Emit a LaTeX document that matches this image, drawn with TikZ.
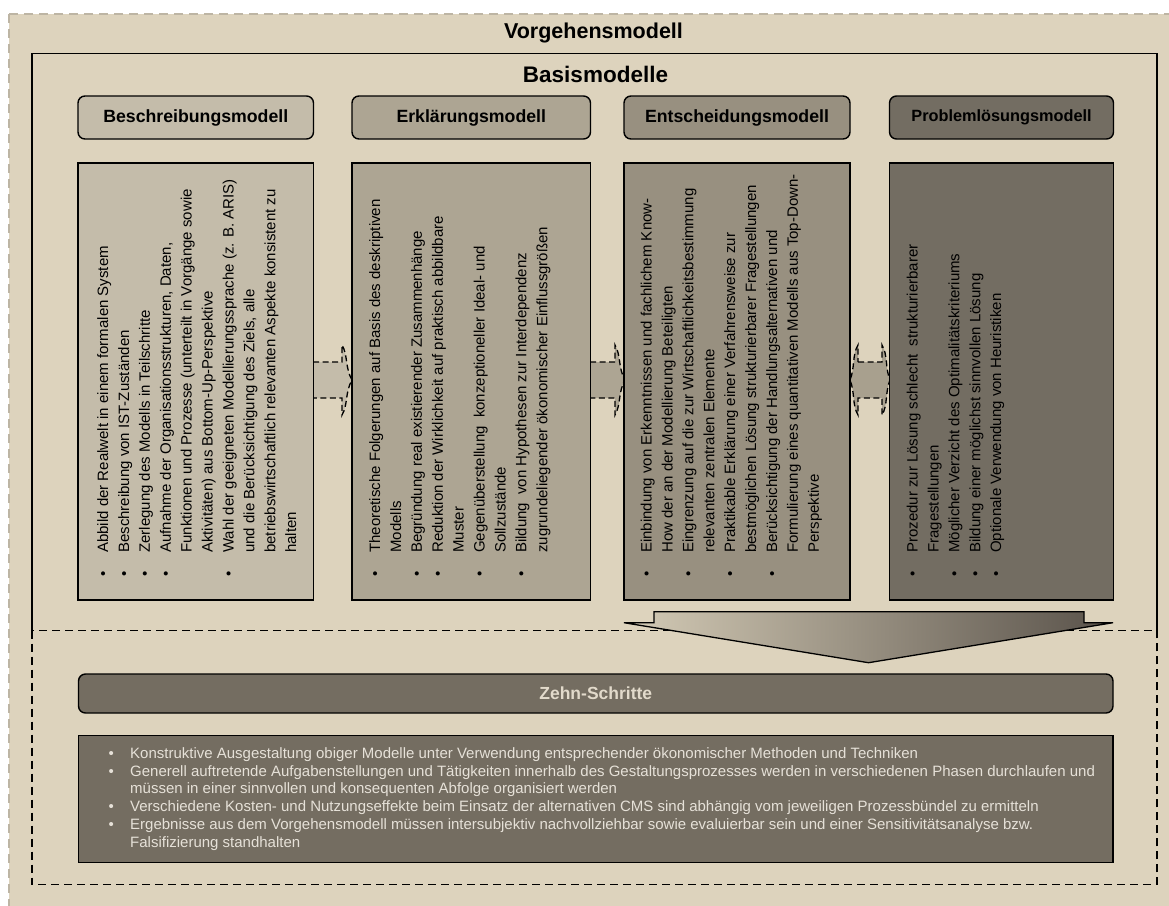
\documentclass[tikz,border=0pt]{standalone}
\usepackage{fontspec}
\setmainfont{Liberation Sans}
\definecolor{bgbeige}{HTML}{DDD3BD}
\definecolor{cBes}{HTML}{C4BCAA}
\definecolor{cErk}{HTML}{ADA593}
\definecolor{cEnt}{HTML}{989080}
\definecolor{cArr}{HTML}{A8A08E}
\definecolor{cPro}{HTML}{736D62}
\definecolor{cZehn}{HTML}{746D61}
\definecolor{outerdash}{HTML}{BDB5A4}
\definecolor{lighttext}{HTML}{E6E1D8}
\definecolor{zehntext}{HTML}{E2DACB}
\definecolor{arrL}{HTML}{D4CBB6}
\definecolor{arrR}{HTML}{59524A}
\newcommand{\bi}[1]{\makebox[24pt][l]{\textbullet}#1}
\newcommand{\bc}[1]{\hspace*{24pt}#1}
\newcommand{\bz}[1]{\makebox[21.6pt][l]{\textbullet}#1}
\newcommand{\bzc}[1]{\hspace*{21.6pt}#1}
\newcommand{\fr}{\rule{0pt}{12pt}}
\begin{document}
\begin{tikzpicture}[x=1pt,y=-1pt,
  hdr/.style={draw=black,line width=1.4pt,rounded corners=7pt,inner sep=0pt,minimum height=43pt,font=\bfseries\fontsize{17.7}{20}\selectfont},
  cbox/.style={draw=black,line width=1.4pt,inner sep=0pt,minimum height=437pt},
  rtext/.style={rotate=90,anchor=north west,inner sep=0pt,align=left,text=black,font=\fontsize{15}{20.9}\selectfont},
  dline/.style={draw=black,line width=1.3pt,dash pattern=on 6pt off 3.5pt},
  boxdash/.style={draw=black,line width=1.5pt,dash pattern=on 8pt off 5pt},
  titlefont/.style={font=\bfseries\fontsize{#1}{24}\selectfont}
]
\useasboundingbox (0,0) rectangle (1169,905);
\fill[white] (0,0) rectangle (1169,905);
\draw[draw=outerdash,fill=bgbeige,line width=2pt,dash pattern=on 9pt off 6pt] (9,14) rectangle (1190,930);

\node[anchor=base,titlefont=21.5] (title) at (593.5,38.3) {Vorgehensmodell};

% frame and bottom dashed area
\draw[black,line width=1.5pt] (32,630.7) -- (32,53.3) -- (1157,53.3) -- (1157,630.7);
\node[anchor=base,titlefont=22.5] (basis) at (595.5,82.7) {Basismodelle};

% header boxes
\node[hdr,fill=cBes,minimum width=235.5pt] (h1) at (195.75,117.5) {Beschreibungsmodell};
\node[hdr,fill=cErk,minimum width=238.5pt] (h2) at (471.25,117.5) {Erklärungsmodell};
\node[hdr,fill=cEnt,minimum width=226pt] (h3) at (737,117.5) {Entscheidungsmodell};
\node[hdr,fill=cPro,minimum width=224pt,font=\bfseries\fontsize{16.3}{19}\selectfont] (h4) at (1001.5,117.5) {Problemlösungsmodell};

% dashed block arrows between content boxes
\fill[cBes] (313,362) -- (342,362) -- (342,345) .. controls (348,355) and (345,368) .. (352,380) .. controls (345,392) and (348,405) .. (342,415) -- (342,398) -- (313,398) -- cycle;
\draw[dline] (313,362) -- (342,362) -- (342,345) .. controls (348,355) and (345,368) .. (352,380) .. controls (345,392) and (348,405) .. (342,415) -- (342,398) -- (313,398);
\fill[cErk] (590,362) -- (615,362) -- (615,345) .. controls (621,355) and (618,368) .. (625,380) .. controls (618,392) and (621,405) .. (615,415) -- (615,398) -- (590,398) -- cycle;
\draw[dline] (590,362) -- (615,362) -- (615,345) .. controls (621,355) and (618,368) .. (625,380) .. controls (618,392) and (621,405) .. (615,415) -- (615,398) -- (590,398);
\path[fill=cArr,dline] (858,362) -- (882,362) -- (882,345) .. controls (888,355) and (885,368) .. (890,380) .. controls (885,392) and (888,405) .. (882,415) -- (882,398) -- (858,398) -- (858,415) .. controls (852,405) and (855,392) .. (850,380) .. controls (855,368) and (852,355) .. (858,345) -- cycle;

% content boxes
\node[cbox,fill=cBes,minimum width=235.5pt] (c1) at (195.75,381.5) {};
\node[cbox,fill=cErk,minimum width=238.5pt] (c2) at (471.25,381.5) {};
\node[cbox,fill=cEnt,minimum width=226pt] (c3) at (737,381.5) {};
\node[cbox,fill=cPro,minimum width=224pt] (c4) at (1001.5,381.5) {};

\node[rtext] (t1) at (95.9,577) {\fr\bi{Abbild der Realwelt in einem formalen System}\\
\bi{Beschreibung von IST-Zuständen}\\
\bi{Zerlegung des Modells in Teilschritte}\\
\bi{Aufnahme der Organisationsstrukturen, Daten,}\\
\bc{Funktionen und Prozesse (unterteilt in Vorgänge sowie}\\
\bc{Aktivitäten) aus Bottom-Up-Perspektive}\\
\bi{Wahl der geeigneten Modellierungssprache (z. B. ARIS)}\\
\bc{und die Berücksichtigung des Ziels, alle}\\
\bc{betriebswirtschaftlich relevanten Aspekte konsistent zu}\\
\bc{halten}};

\node[rtext] (t2) at (367.9,577) {\fr\bi{Theoretische Folgerungen auf Basis des deskriptiven}\\
\bc{Modells}\\
\bi{Begründung real existierender Zusammenhänge}\\
\bi{Reduktion der Wirklichkeit auf praktisch abbildbare}\\
\bc{Muster}\\
\bi{Gegenüberstellung\hspace{4pt} konzeptioneller Ideal- und}\\
\bc{Sollzustände}\\
\bi{Bildung\hspace{4pt} von Hypothesen zur Interdependenz}\\
\bc{zugrundeliegender ökonomischer Einflussgrößen}};

\node[rtext] (t3) at (639.4,577) {\fr\bi{Einbindung von Erkenntnissen und fachlichem Know-}\\
\bc{How der an der Modellierung Beteiligten}\\
\bi{Eingrenzung auf die zur Wirtschaftlichkeitsbestimmung}\\
\bc{relevanten zentralen Elemente}\\
\bi{Praktikable Erklärung einer Verfahrensweise zur}\\
\bc{bestmöglichen Lösung strukturierbarer Fragestellungen}\\
\bi{Berücksichtigung der Handlungsalternativen und}\\
\bc{Formulierung eines quantitativen Modells aus Top-Down-}\\
\bc{Perspektive}};

\node[rtext] (t4) at (905.4,577) {\fr\bi{Prozedur zur Lösung schlecht\hspace{4pt} strukturierbarer}\\
\bc{Fragestellungen}\\
\bi{Möglicher Verzicht des Optimalitätskriteriums}\\
\bi{Bildung einer möglichst sinnvollen Lösung}\\
\bi{Optionale Verwendung von Heuristiken}};

% bottom dashed region
\draw[boxdash] (32,630.7) rectangle (1157,884.5);

% big down arrow
\draw[line width=1.3pt,left color=arrL,right color=arrR] (654,611.7) -- (1084,611.7) -- (1084,622.7) -- (1113,622.7) -- (868.5,662.7) -- (624,622.7) -- (654,622.7) -- cycle;

% Zehn-Schritte
\node[hdr,fill=cZehn,minimum width=1034.5pt,minimum height=39pt,text=zehntext,font=\bfseries\fontsize{17.5}{20}\selectfont] (zh) at (595.75,693.5) {Zehn-Schritte};
\node[draw=black,line width=1.4pt,fill=cZehn,inner sep=0pt,minimum width=1034.5pt,minimum height=127pt] (zb) at (595.75,799.2) {};
\node[anchor=north west,inner sep=0pt,align=left,text=lighttext,font=\fontsize{15}{17.8}\selectfont] (zt) at (108.4,746) {\fr\bz{Konstruktive Ausgestaltung obiger Modelle unter Verwendung entsprechender ökonomischer Methoden und Techniken}\\
\bz{Generell auftretende Aufgabenstellungen und Tätigkeiten innerhalb des Gestaltungsprozesses werden in verschiedenen Phasen durchlaufen und}\\
\bzc{müssen in einer sinnvollen und konsequenten Abfolge organisiert werden}\\
\bz{Verschiedene Kosten- und Nutzungseffekte beim Einsatz der alternativen CMS sind abhängig vom jeweiligen Prozessbündel zu ermitteln}\\
\bz{Ergebnisse aus dem Vorgehensmodell müssen intersubjektiv nachvollziehbar sowie evaluierbar sein und einer Sensitivitätsanalyse bzw.}\\
\bzc{Falsifizierung standhalten}};
\end{tikzpicture}
\end{document}
